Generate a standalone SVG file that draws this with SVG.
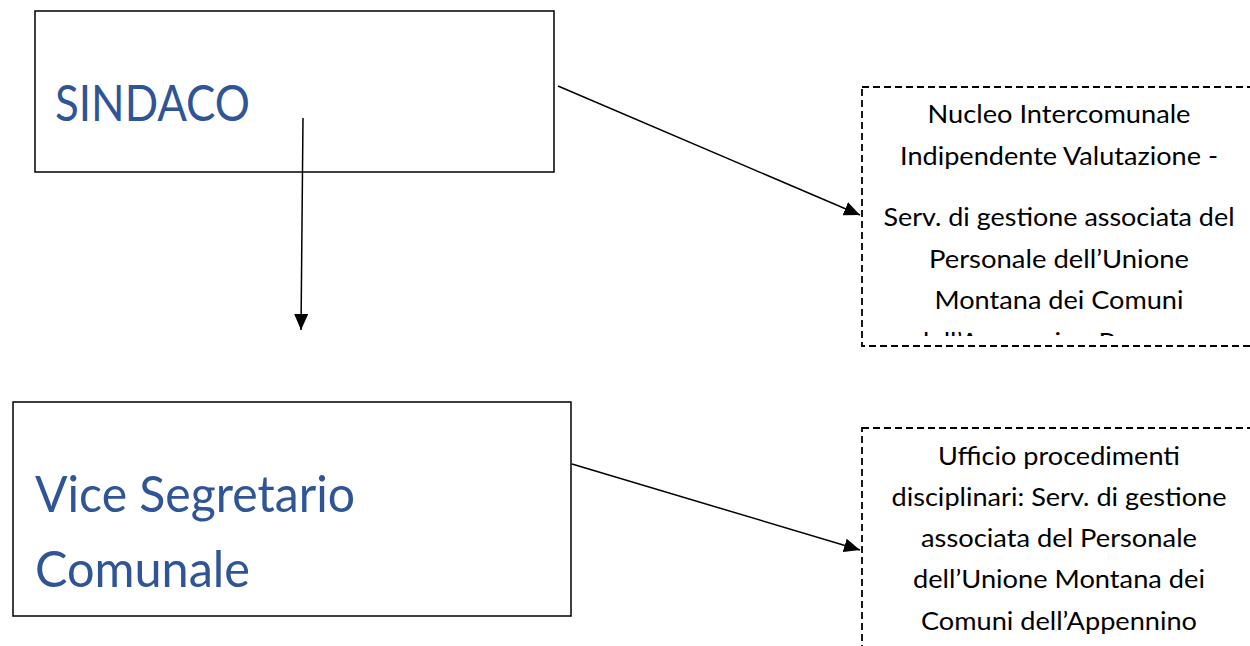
<svg xmlns="http://www.w3.org/2000/svg" width="1250" height="646" viewBox="0 0 1250 646">
<style>
.box{fill:#fff;stroke:#000;stroke-width:1.5}
.dbox{fill:#fff;stroke:#000;stroke-width:1.8;stroke-dasharray:7 4}
.big{font-family:Lato,"Liberation Sans",sans-serif;fill:#2f5597;font-size:51px}
.small{font-family:Lato,"Liberation Sans",sans-serif;fill:#000;font-size:25px}
.conn{stroke:#000;stroke-width:1.5;fill:none}
</style>
<defs>
<marker id="arrh" viewBox="0 0 10 10" refX="10" refY="5" markerWidth="16" markerHeight="14" markerUnits="userSpaceOnUse" orient="auto" preserveAspectRatio="none">
<path d="M0,0 L10,5 L0,10 z" fill="#000"/>
</marker>
<clipPath id="clip1"><rect x="862" y="87" width="400" height="249"/></clipPath>
</defs>
<g id="sindaco">
<rect class="box" x="35" y="11" width="519" height="161"/>
<text class="big" x="55" y="121" textLength="195" lengthAdjust="spacingAndGlyphs">SINDACO</text>
</g>
<g id="vice">
<rect class="box" x="13" y="402" width="558" height="214"/>
<text class="big" x="35" y="512" textLength="320" lengthAdjust="spacingAndGlyphs">Vice Segretario</text>
<text class="big" x="35" y="587" textLength="215" lengthAdjust="spacingAndGlyphs">Comunale</text>
</g>
<g id="nucleo">
<rect class="dbox" x="862" y="87" width="400" height="259"/>
<g clip-path="url(#clip1)" text-anchor="middle">
<text class="small" x="1059" y="123" textLength="263" lengthAdjust="spacingAndGlyphs">Nucleo Intercomunale</text>
<text class="small" x="1059" y="165" textLength="318" lengthAdjust="spacingAndGlyphs">Indipendente Valutazione -</text>
<text class="small" x="1059" y="226" textLength="351" lengthAdjust="spacingAndGlyphs">Serv. di gestione associata del</text>
<text class="small" x="1059" y="268" textLength="260" lengthAdjust="spacingAndGlyphs">Personale dell’Unione</text>
<text class="small" x="1059" y="309" textLength="249" lengthAdjust="spacingAndGlyphs">Montana dei Comuni</text>
<text class="small" x="1059" y="351" textLength="290" lengthAdjust="spacingAndGlyphs">dell’Appennino Pesarese</text>
</g>
</g>
<g id="ufficio">
<rect class="dbox" x="862" y="428" width="400" height="240"/>
<g text-anchor="middle">
<text class="small" x="1059" y="465" textLength="242" lengthAdjust="spacingAndGlyphs">Ufficio procedimenti</text>
<text class="small" x="1059" y="506" textLength="335" lengthAdjust="spacingAndGlyphs">disciplinari: Serv. di gestione</text>
<text class="small" x="1059" y="547" textLength="276" lengthAdjust="spacingAndGlyphs">associata del Personale</text>
<text class="small" x="1059" y="588" textLength="292" lengthAdjust="spacingAndGlyphs">dell’Unione Montana dei</text>
<text class="small" x="1059" y="630" textLength="276" lengthAdjust="spacingAndGlyphs">Comuni dell’Appennino</text>
</g>
</g>
<g id="connectors">
<line class="conn" x1="303" y1="118" x2="301" y2="330" marker-end="url(#arrh)"/>
<line class="conn" x1="558" y1="86" x2="860" y2="215" marker-end="url(#arrh)"/>
<line class="conn" x1="572" y1="464" x2="860" y2="550" marker-end="url(#arrh)"/>
</g>
</svg>
